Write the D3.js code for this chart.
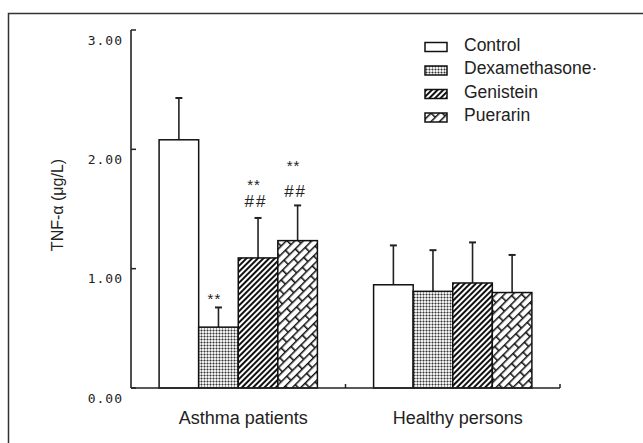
<!DOCTYPE html>
<html><head><meta charset="utf-8">
<script src="https://cdn.jsdelivr.net/npm/d3@7"></script>
<style>html,body{margin:0;padding:0;background:#fff;}svg{display:block;}</style>
</head><body>
<svg id="chart" width="643" height="443"></svg>
<script>
const categories = ["Asthma patients", "Healthy persons"];
const series = ["Control", "Dexamethasone", "Genistein", "Puerarin"];
const legendLabels = ["Control", "Dexamethasone·", "Genistein", "Puerarin"];
const asthmaMeans = [2.08, 0.51, 1.09, 1.235];
const asthmaErrTops = [2.43, 0.675, 1.425, 1.53];
const healthyMeans = [0.865, 0.81, 0.88, 0.80];
const healthyErrTops = [1.195, 1.155, 1.22, 1.115];
const yTicks = [0, 1, 2, 3];
const yTickLabels = ["0.00", "1.00", "2.00", "3.00"];
// significance marks: [category index, series index, text, y value]
const annotations = [
  [0, 1, "**", 0.78],
  [0, 2, "**", 1.74],
  [0, 2, "##", 1.56],
  [0, 3, "**", 1.90],
  [0, 3, "##", 1.65]
];

const means = [asthmaMeans, healthyMeans];
const errTops = [asthmaErrTops, healthyErrTops];
const data = [];
categories.forEach((c, ci) => series.forEach((s, si) => data.push({c, s, ci, si, v: means[ci][si], e: errTops[ci][si]})));

const svg = d3.select("#chart");
const ink = "#222";

// frame
svg.append("rect").attr("x", 8.5).attr("y", 13.5).attr("width", 700).attr("height", 600)
  .attr("fill", "none").attr("stroke", "#333").attr("stroke-width", 1.5);

const defs = svg.append("defs");
// Dexamethasone: fine dotted stipple
const pD = defs.append("pattern").attr("id", "pDexa").attr("patternUnits", "userSpaceOnUse").attr("width", 3).attr("height", 3);
pD.append("rect").attr("width", 3).attr("height", 3).attr("fill", "#eee");
pD.append("rect").attr("width", 3).attr("height", 1).attr("fill", "#9c9c9c");
pD.append("rect").attr("width", 1).attr("height", 3).attr("fill", "#9c9c9c");
pD.append("rect").attr("width", 1).attr("height", 1).attr("fill", "#333");
// Genistein: dense diagonal hatch
const pG = defs.append("pattern").attr("id", "pGen").attr("patternUnits", "userSpaceOnUse").attr("width", 4).attr("height", 4).attr("patternTransform", "rotate(45)");
pG.append("rect").attr("width", 4).attr("height", 4).attr("fill", "#fff");
pG.append("line").attr("x1", 1).attr("x2", 1).attr("y1", 0).attr("y2", 4).attr("stroke", "#111").attr("stroke-width", 2);
// Puerarin: diagonal brick
const pP = defs.append("pattern").attr("id", "pPue").attr("patternUnits", "userSpaceOnUse").attr("width", 16).attr("height", 12).attr("patternTransform", "rotate(-45)");
pP.append("rect").attr("width", 16).attr("height", 12).attr("fill", "#fff");
pP.append("path").attr("d", "M0,0.75H16M0,6.75H16M0.75,0V6.75M8.75,6.75V12").attr("stroke", "#111").attr("stroke-width", 1.6).attr("fill", "none");

const fills = {"Control": "#fff", "Dexamethasone": "url(#pDexa)", "Genistein": "url(#pGen)", "Puerarin": "url(#pPue)"};

const y = d3.scaleLinear().domain([0, 3]).range([388, 30]);
const x0 = d3.scaleBand().domain(categories).range([131, 560]).paddingInner(0).paddingOuter(0);
const x1 = d3.scaleBand().domain(series).range([0, x0.bandwidth()]).paddingInner(0).paddingOuter(0.71);

// error bars (drawn under bars)
const eb = svg.append("g").attr("stroke", ink).attr("stroke-width", 1.6);
data.forEach(d => {
  const cx = x0(d.c) + x1(d.s) + x1.bandwidth() / 2;
  eb.append("line").attr("x1", cx).attr("x2", cx).attr("y1", y(d.v)).attr("y2", y(d.e));
  eb.append("line").attr("x1", cx - 3.5).attr("x2", cx + 3.5).attr("y1", y(d.e)).attr("y2", y(d.e)).attr("stroke-width", 2);
});

// bars
svg.append("g").selectAll("rect").data(data).join("rect")
  .attr("x", d => x0(d.c) + x1(d.s))
  .attr("y", d => y(d.v))
  .attr("width", x1.bandwidth())
  .attr("height", d => y(0) - y(d.v))
  .attr("fill", d => fills[d.s])
  .attr("stroke", "#111").attr("stroke-width", 1.5);

// annotations
svg.append("g").selectAll("text").data(annotations).join("text")
  .attr("x", d => x0(categories[d[0]]) + x1(series[d[1]]) + x1.bandwidth() / 2 + (d[2] === "**" ? -4 : -2))
  .attr("y", d => y(d[3]) + (d[2] === "**" ? 4 : 0))
  .attr("text-anchor", "middle").attr("dominant-baseline", "central")
  .attr("font-family", "Liberation Sans, Arial, sans-serif")
  .attr("font-size", d => d[2] === "**" ? 15 : 17)
  .attr("letter-spacing", d => d[2] === "##" ? 2 : 1)
  .attr("fill", ink)
  .text(d => d[2]);

// y axis
const ya = svg.append("g");
ya.append("line").attr("x1", 131).attr("x2", 131).attr("y1", y(0)).attr("y2", y(3)).attr("stroke", ink).attr("stroke-width", 1.6);
yTicks.forEach((t, i) => {
  ya.append("line").attr("x1", 131).attr("x2", 136).attr("y1", y(t)).attr("y2", y(t)).attr("stroke", ink).attr("stroke-width", 1.5);
  ya.append("text").attr("x", 123).attr("y", y(t) + 10).attr("text-anchor", "end").attr("dominant-baseline", "central")
    .attr("font-family", "DejaVu Sans Mono, monospace").attr("font-size", 13).attr("letter-spacing", 1).attr("fill", ink)
    .text(yTickLabels[i]);
});

// x axis
const xa = svg.append("g");
xa.append("line").attr("x1", 131).attr("x2", 560).attr("y1", y(0)).attr("y2", y(0)).attr("stroke", ink).attr("stroke-width", 1.6);
categories.forEach(c => {
  const xe = x0(c) + x0.bandwidth();
  xa.append("line").attr("x1", xe).attr("x2", xe).attr("y1", y(0)).attr("y2", y(0) - 4).attr("stroke", ink).attr("stroke-width", 1.5);
  xa.append("text").attr("x", x0(c) + x0.bandwidth() / 2 + 5).attr("y", 424)
    .attr("text-anchor", "middle").attr("font-family", "Liberation Sans, Arial, sans-serif")
    .attr("font-size", 18).attr("fill", ink).text(c);
});

// y title
svg.append("text").attr("transform", "translate(63,205) rotate(-90)")
  .attr("text-anchor", "middle").attr("font-family", "Liberation Sans, Arial, sans-serif")
  .attr("font-size", 16).attr("fill", ink).text("TNF-α (μg/L)");

// legend
const lg = svg.append("g");
series.forEach((s, i) => {
  const cy = 44.5 + i * 23.5;
  lg.append("rect").attr("x", 425).attr("y", cy - 2).attr("width", 22).attr("height", 9)
    .attr("fill", fills[s]).attr("stroke", "#111").attr("stroke-width", 1.5);
  lg.append("text").attr("x", 464).attr("y", cy).attr("dominant-baseline", "central")
    .attr("font-family", "Liberation Sans, Arial, sans-serif").attr("font-size", 17.5).attr("fill", ink)
    .text(legendLabels[i]);
});
</script>
</body></html>
